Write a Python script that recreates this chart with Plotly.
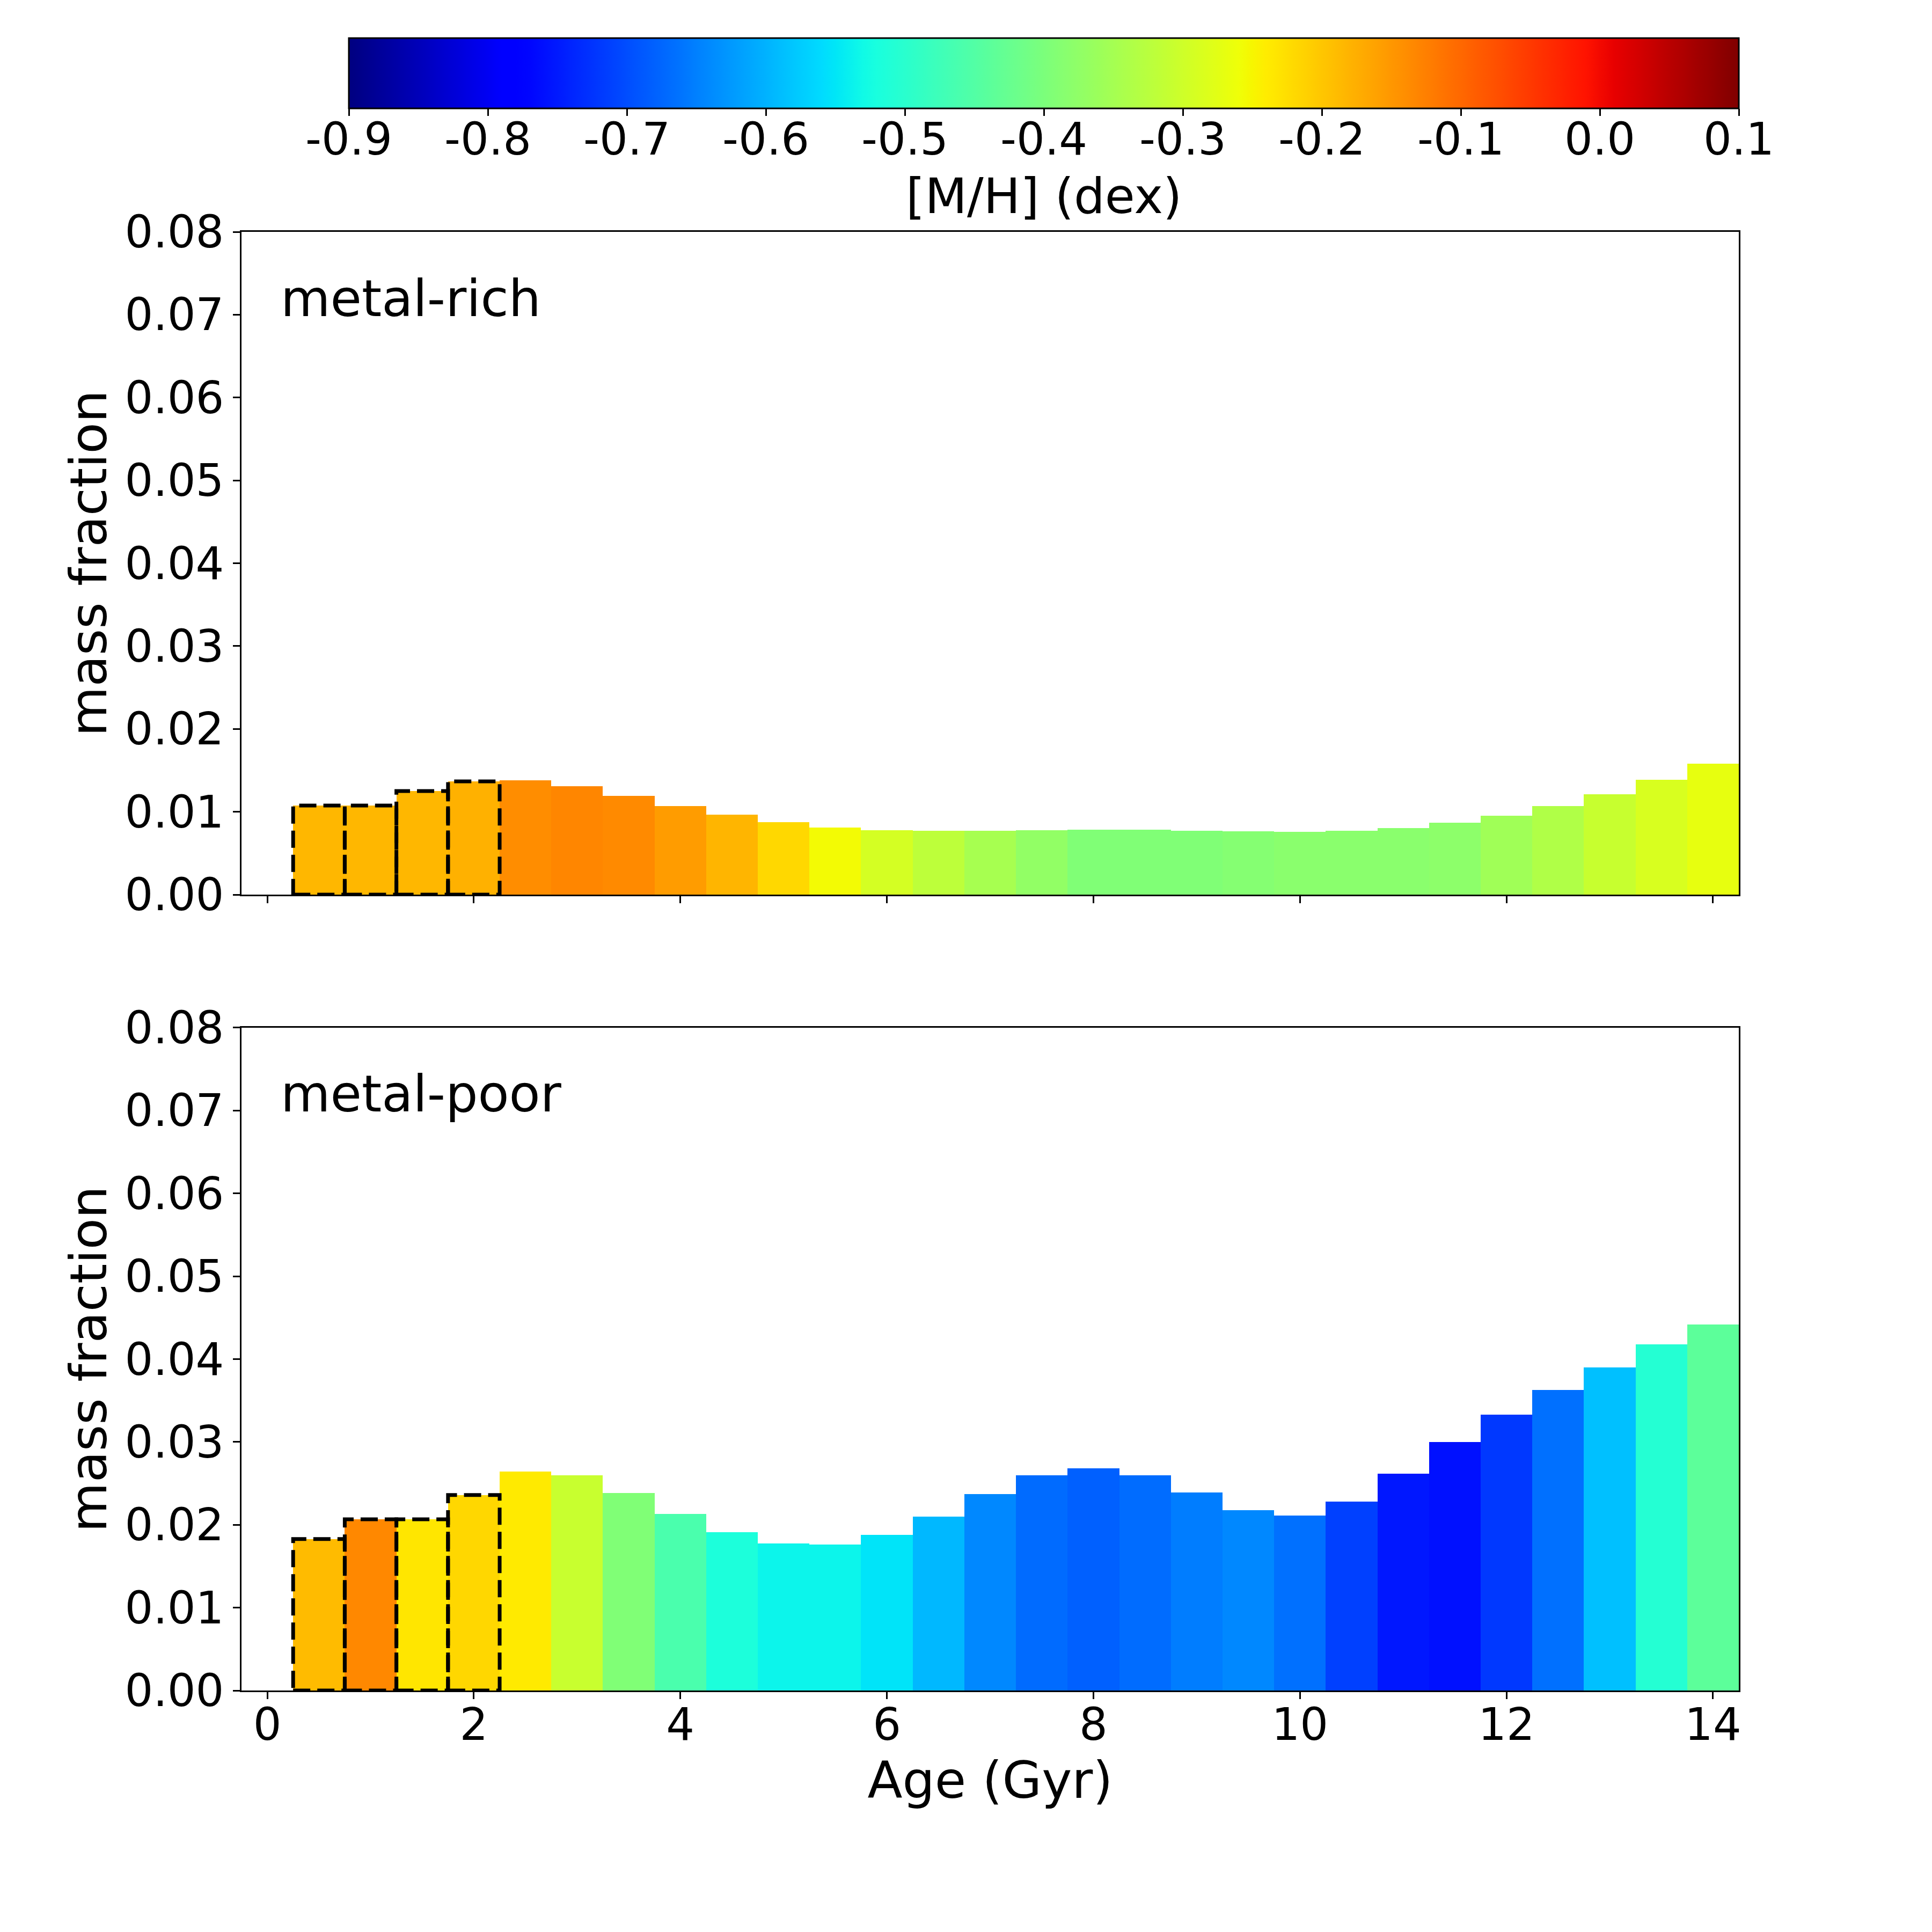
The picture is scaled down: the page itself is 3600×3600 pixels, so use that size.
import numpy as np
import plotly.graph_objects as go

# ---------------- data ----------------
ages = [0.5, 1.0, 1.5, 2.0, 2.5, 3.0, 3.5, 4.0, 4.5, 5.0, 5.5, 6.0, 6.5, 7.0,
        7.5, 8.0, 8.5, 9.0, 9.5, 10.0, 10.5, 11.0, 11.5, 12.0, 12.5, 13.0, 13.5, 14.0]

rich_mass = [0.01075, 0.01075, 0.0125, 0.01367, 0.0138, 0.01308, 0.01192, 0.01069,
             0.00965, 0.00874, 0.0081, 0.00777, 0.0077, 0.0077, 0.00777, 0.00784,
             0.00784, 0.00771, 0.00764, 0.00758, 0.00771, 0.00803, 0.00868, 0.00952,
             0.01069, 0.01211, 0.01386, 0.0158]
rich_mh = [-0.184, -0.184, -0.184, -0.178, -0.139, -0.132, -0.136, -0.155,
           -0.182, -0.219, -0.255, -0.293, -0.320, -0.348, -0.372, -0.394,
           -0.394, -0.394, -0.389, -0.383, -0.383, -0.383, -0.379, -0.356,
           -0.336, -0.308, -0.287, -0.269]

poor_mass = [0.01828, 0.02067, 0.02067, 0.0236, 0.0264, 0.0260, 0.02383, 0.02132,
             0.01909, 0.01774, 0.01762, 0.01878, 0.02099, 0.0237, 0.0260, 0.0268,
             0.0260, 0.0239, 0.02175, 0.0211, 0.0228, 0.0262, 0.0300, 0.0333,
             0.0363, 0.0390, 0.0418, 0.0442]
poor_mh = [-0.188, -0.134, -0.233, -0.218, -0.238, -0.307, -0.394, -0.460,
           -0.516, -0.535, -0.535, -0.552, -0.595, -0.642, -0.670, -0.681,
           -0.669, -0.653, -0.642, -0.665, -0.712, -0.752, -0.759, -0.720,
           -0.665, -0.587, -0.506, -0.438]

n_dashed = 4          # first bins outlined with dashed boxes
bar_width = 0.5
mh_min, mh_max = -0.9, 0.1
cbar_ticks = [-0.9, -0.8, -0.7, -0.6, -0.5, -0.4, -0.3, -0.2, -0.1, 0.0, 0.1]
x_ticks = [0, 2, 4, 6, 8, 10, 12, 14]
y_ticks = [0.0, 0.01, 0.02, 0.03, 0.04, 0.05, 0.06, 0.07, 0.08]

# ---------------- matplotlib "jet" colormap ----------------
_r = [(0, 0), (0.35, 0), (0.66, 1), (0.89, 1), (1, 0.5)]
_g = [(0, 0), (0.125, 0), (0.375, 1), (0.64, 1), (0.91, 0), (1, 0)]
_b = [(0, 0.5), (0.11, 1), (0.34, 1), (0.65, 0), (1, 0)]
ts = np.linspace(0, 1, 101)


def _ch(seg):
    xs, ys = zip(*seg)
    return np.interp(ts, xs, ys)


R, G, B = _ch(_r), _ch(_g), _ch(_b)
jet = [[float(t), f"rgb({int(round(r*255))},{int(round(g*255))},{int(round(b*255))})"]
       for t, r, g, b in zip(ts, R, G, B)]

FONT = "DejaVu Sans"
TICK_FS = 83
LABEL_FS = 95
CB_TITLE_FS = 91

# colorbar geometry (fractions of the plotting area)
CB_X0, CB_LEN = 0.0717, 0.9283
CB_TOP, CB_THICK = 1.1328, 131

fig = go.Figure()

fig.add_trace(go.Bar(
    x=ages, y=rich_mass, width=bar_width, xaxis="x", yaxis="y",
    marker=dict(color=rich_mh, colorscale=jet, cmin=mh_min, cmax=mh_max,
                line=dict(width=0), showscale=True,
                colorbar=dict(
                    orientation="h", x=CB_X0, xanchor="left",
                    y=CB_TOP, yanchor="top", yref="paper",
                    len=CB_LEN, lenmode="fraction",
                    thickness=CB_THICK, thicknessmode="pixels",
                    xpad=0, ypad=0,
                    outlinecolor="black", outlinewidth=3,
                    tickvals=cbar_ticks, showticklabels=False,
                    ticks="outside", ticklen=13, tickwidth=3, tickcolor="black",
                )),
    showlegend=False, hoverinfo="x+y",
))

fig.add_trace(go.Bar(
    x=ages, y=poor_mass, width=bar_width, xaxis="x2", yaxis="y2",
    marker=dict(color=poor_mh, colorscale=jet, cmin=mh_min, cmax=mh_max,
                line=dict(width=0), showscale=False),
    showlegend=False, hoverinfo="x+y",
))

# dashed outlines of the youngest bins
shapes = []
for xr, yr, vals in (("x", "y", rich_mass), ("x2", "y2", poor_mass)):
    for a, v in zip(ages[:n_dashed], vals[:n_dashed]):
        shapes.append(dict(type="rect", xref=xr, yref=yr,
                           x0=a - bar_width / 2, x1=a + bar_width / 2, y0=0, y1=v,
                           line=dict(color="black", width=7, dash="32px,13px"),
                           fillcolor="rgba(0,0,0,0)", layer="above"))

# colorbar tick labels and title
annotations = []
for v in cbar_ticks:
    annotations.append(dict(
        text=f"{v:.1f}", xref="paper", yref="paper",
        x=CB_X0 + (v - mh_min) / (mh_max - mh_min) * CB_LEN, y=1.0633,
        xanchor="center", yanchor="middle", showarrow=False,
        font=dict(family=FONT, size=TICK_FS, color="black")))
annotations.append(dict(
    text="[M/H] (dex)", xref="paper", yref="paper",
    x=CB_X0 + CB_LEN / 2, y=1.0243, xanchor="center", yanchor="middle",
    showarrow=False, font=dict(family=FONT, size=CB_TITLE_FS, color="black")))
annotations += [
    dict(text="metal-rich", xref="x domain", yref="y domain", x=0.0254, y=0.9,
         xanchor="left", yanchor="middle", showarrow=False,
         font=dict(family=FONT, size=LABEL_FS, color="black")),
    dict(text="metal-poor", xref="x2 domain", yref="y2 domain", x=0.0254, y=0.9,
         xanchor="left", yanchor="middle", showarrow=False,
         font=dict(family=FONT, size=LABEL_FS, color="black")),
]

axis_common = dict(
    showline=True, linecolor="black", linewidth=3, mirror=True,
    ticks="outside", ticklen=13, tickwidth=3, tickcolor="black",
    showgrid=False, zeroline=False,
    tickfont=dict(family=FONT, size=TICK_FS, color="black"),
)

xrange_ = [-0.25, 14.25]
yrange_ = [0, 0.08]

fig.update_layout(
    width=3600, height=3600,
    margin=dict(l=442, r=368, t=424, b=458),
    paper_bgcolor="white", plot_bgcolor="white",
    font=dict(family=FONT, color="black"),
    bargap=0,
    shapes=shapes,
    annotations=annotations,
    xaxis=dict(domain=[0, 1], anchor="y", range=xrange_, tickvals=x_ticks,
               showticklabels=False, **axis_common),
    yaxis=dict(domain=[0.5456, 1], anchor="x", range=yrange_, tickvals=y_ticks,
               tickformat=".2f",
               title=dict(text="mass fraction", standoff=3,
                          font=dict(family=FONT, size=LABEL_FS, color="black")),
               **axis_common),
    xaxis2=dict(domain=[0, 1], anchor="y2", range=xrange_, tickvals=x_ticks,
                matches="x", ticklabelstandoff=-24,
                title=dict(text="Age (Gyr)", standoff=2,
                           font=dict(family=FONT, size=LABEL_FS, color="black")),
                **axis_common),
    yaxis2=dict(domain=[0, 0.4544], anchor="x2", range=yrange_, tickvals=y_ticks,
                tickformat=".2f",
                title=dict(text="mass fraction", standoff=3,
                           font=dict(family=FONT, size=LABEL_FS, color="black")),
                **axis_common),
)

fig.write_html("out.html")
